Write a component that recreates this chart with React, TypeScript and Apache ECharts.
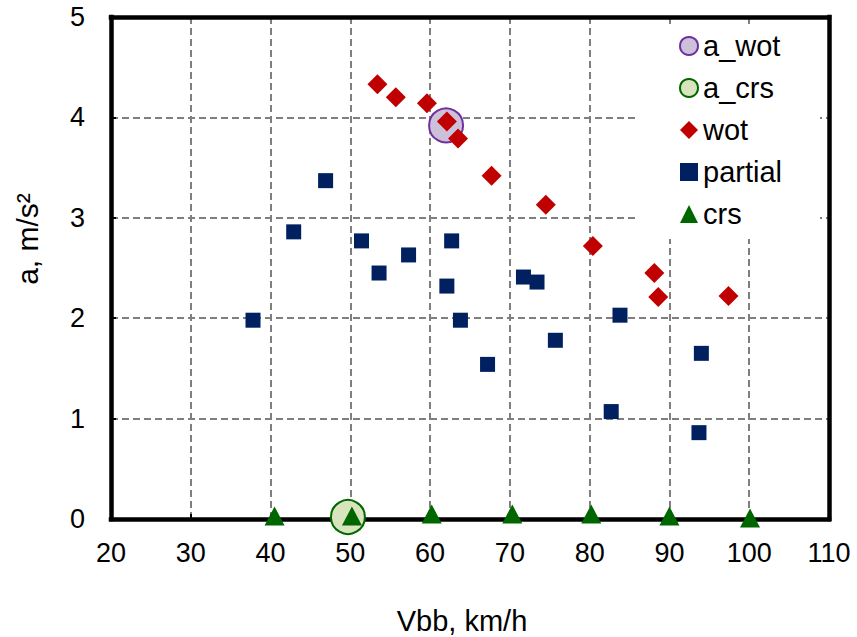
import React, { useEffect, useRef } from "react";
import * as echarts from "echarts";

// ---- data ----
const wotX = [53.4, 55.7, 59.6, 62.1, 63.5, 67.7, 74.5, 80.4, 88.1, 88.6, 97.4];
const wotY = [4.33, 4.2, 4.14, 3.96, 3.79, 3.42, 3.13, 2.72, 2.45, 2.21, 2.22];

const partialX = [37.8, 42.9, 46.9, 51.4, 53.6, 57.3, 62.1, 62.7, 63.8, 67.2, 71.7, 73.4, 75.7, 82.7, 83.8, 94.0, 93.7];
const partialY = [1.98, 2.86, 3.37, 2.77, 2.45, 2.63, 2.32, 2.77, 1.98, 1.54, 2.41, 2.36, 1.78, 1.07, 2.03, 1.65, 0.86];

const crsX = [40.5, 50.2, 60.2, 70.3, 80.2, 90.0, 100.1];
const crsY = [0.03, 0.03, 0.05, 0.05, 0.05, 0.03, 0.01];

const aWotX = [62.0];
const aWotY = [3.92];
const aCrsX = [49.7];
const aCrsY = [0.02];

const seriesNames = ["a_wot", "a_crs", "wot", "partial", "crs"];
const xTitle = "Vbb, km/h";
const yTitle = "a, m/s\u00B2";

const X_MIN = 20, X_MAX = 110, X_STEP = 10;
const Y_MIN = 0, Y_MAX = 5, Y_STEP = 1;

const zip = (xs: number[], ys: number[]) => xs.map((x, i) => [x, ys[i]]);

const FONT = "Liberation Sans, Arial, sans-serif";

export default function App() {
  const ref = useRef<HTMLDivElement>(null);
  useEffect(() => {
    if (!ref.current) return;
    const chart = echarts.init(ref.current, null, { renderer: "svg" });
    const axisLine = { show: true, lineStyle: { color: "#000", width: 4.5, cap: "square" } };
    const split = { show: true, lineStyle: { color: "#7f7f7f", width: 2, type: [7, 4] } };
    chart.setOption({
      animation: false,
      backgroundColor: "#fff",
      grid: { left: 111, right: 28, top: 17, bottom: 118 },
      xAxis: [
        {
          type: "value", min: X_MIN, max: X_MAX, interval: X_STEP, position: "bottom",
          axisLine: { ...axisLine, onZero: false },
          axisTick: { show: true, inside: true, length: 5, lineStyle: { color: "#000", width: 2 } },
          splitLine: split,
          axisLabel: { color: "#000", fontSize: 27, fontFamily: FONT, margin: 20 },
        },
        {
          type: "value", min: X_MIN, max: X_MAX, interval: X_STEP, position: "top",
          axisLine: { ...axisLine, onZero: false },
          axisTick: { show: false }, splitLine: { show: false }, axisLabel: { show: false },
        },
      ],
      yAxis: [
        {
          type: "value", min: Y_MIN, max: Y_MAX, interval: Y_STEP, position: "left",
          axisLine: { ...axisLine, onZero: false },
          axisTick: { show: true, inside: true, length: 5, lineStyle: { color: "#000", width: 2 } },
          splitLine: split,
          axisLabel: { color: "#000", fontSize: 27, fontFamily: FONT, margin: 26 },
        },
        {
          type: "value", min: Y_MIN, max: Y_MAX, interval: Y_STEP, position: "right",
          axisLine: { ...axisLine, onZero: false },
          axisTick: { show: false }, splitLine: { show: false }, axisLabel: { show: false },
        },
      ],
      legend: {
        orient: "vertical",
        left: 638,
        top: 25,
        padding: [6, 38, 10, 41],
        backgroundColor: "#fff",
        itemWidth: 18,
        itemHeight: 18,
        itemGap: 12,
        data: seriesNames,
        textStyle: { color: "#000", fontSize: 29, fontFamily: FONT, lineHeight: 30 },
        selectedMode: false,
      },
      graphic: [
        {
          type: "text", x: 462, y: 621,
          style: { text: xTitle, font: `29px ${FONT}`, fill: "#000", align: "center", verticalAlign: "middle" },
        },
        {
          type: "text", x: 27, y: 239, rotation: Math.PI / 2,
          style: { text: yTitle, font: `30px ${FONT}`, fill: "#000", align: "center", verticalAlign: "middle" },
        },
      ],
      series: [
        {
          name: "a_wot", type: "scatter", symbol: "circle", symbolSize: 34, clip: false,
          itemStyle: { color: "#CCC0DA", borderColor: "#7030A0", borderWidth: 2, opacity: 1 },
          data: zip(aWotX, aWotY),
        },
        {
          name: "a_crs", type: "scatter", symbol: "circle", symbolSize: 34, clip: false,
          itemStyle: { color: "#D7E4BD", borderColor: "#006600", borderWidth: 2, opacity: 1 },
          data: zip(aCrsX, aCrsY),
        },
        {
          name: "wot", type: "scatter", symbol: "diamond", symbolSize: 20, clip: false,
          itemStyle: { color: "#C00000", opacity: 1 },
          data: zip(wotX, wotY),
        },
        {
          name: "partial", type: "scatter", symbol: "rect", symbolSize: 15, clip: false,
          itemStyle: { color: "#002060", opacity: 1 },
          data: zip(partialX, partialY),
        },
        {
          name: "crs", type: "scatter", symbol: "triangle", symbolSize: [20, 19], clip: false,
          itemStyle: { color: "#006600", opacity: 1 },
          data: zip(crsX, crsY),
        },
      ],
    });
    return () => chart.dispose();
  }, []);
  return (
    <div
      ref={ref}
      style={{ position: "absolute", left: 0, top: 0, width: 857, height: 637, background: "#fff" }}
    />
  );
}
